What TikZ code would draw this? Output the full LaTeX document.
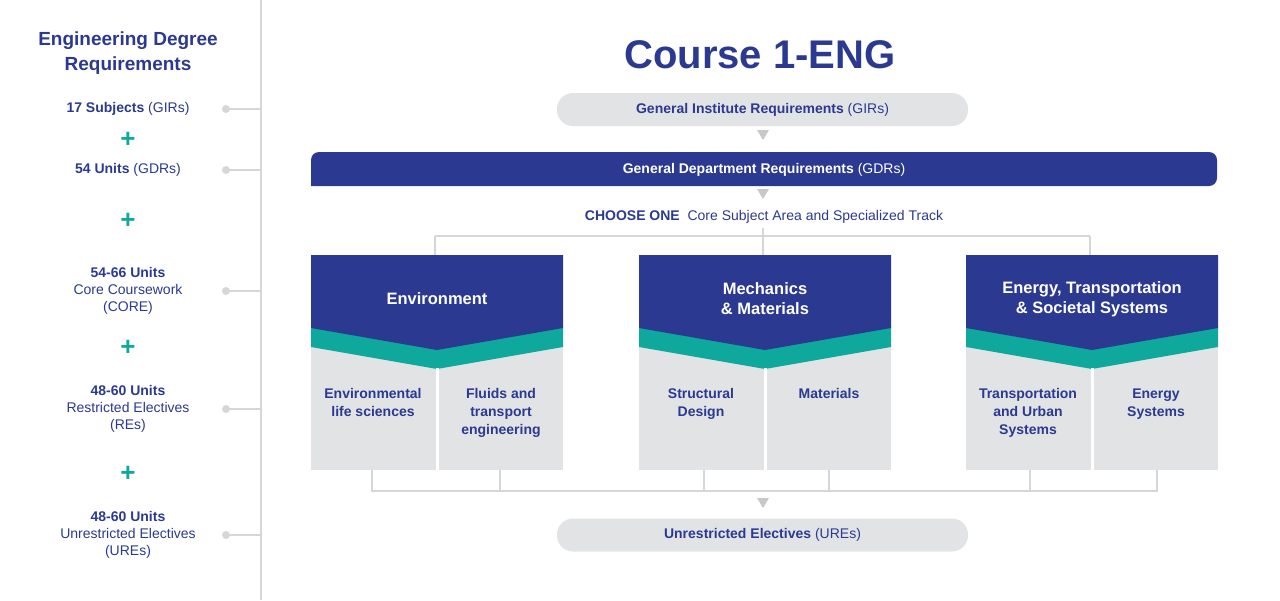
\documentclass[tikz,border=0pt]{standalone}
\usepackage{fontspec}
\setmainfont{Liberation Sans}
\begin{document}
\begin{tikzpicture}[x=1pt,y=-1pt,
  navytxt/.style={text=navy,font=\fontsize{14}{17}\selectfont,align=center},
  boxhead/.style={text=white,font=\bfseries\fontsize{16.5}{20}\selectfont,align=center},
  sub/.style={text=navy,font=\bfseries\fontsize{14}{18}\selectfont,align=center},
  pill/.style={fill=pillgray,rounded corners=16pt},
  conn/.style={draw=linegray,line width=2.5pt},
  tri/.style={fill=trigray},
  plus/.style={text=teal,font=\bfseries\fontsize{26}{26}\selectfont}]
\definecolor{navy}{HTML}{2B3990}
\definecolor{teal}{HTML}{0FA89D}
\definecolor{pillgray}{HTML}{E2E3E5}
\definecolor{linegray}{HTML}{D6D6D6}
\definecolor{trigray}{HTML}{C8C8C8}
\useasboundingbox (0,0) rectangle (1280,600);
% left column
\draw[conn] (261,0) -- (261,600);
\node[navytxt,font=\bfseries\fontsize{19}{25}\selectfont] (title) at (128,53) {Engineering Degree\\Requirements};
\foreach \y/\t [count=\i] in {109/{\textbf{17 Subjects} (GIRs)},170/{\textbf{54 Units} (GDRs)},291/{\textbf{54-66 Units}\\Core Coursework\\(CORE)},409/{\textbf{48-60 Units}\\Restricted Electives\\(REs)},535/{\textbf{48-60 Units}\\Unrestricted Electives\\(UREs)}}{
  \node[navytxt] (l\i) at (128,\y) {\t};
  \coordinate (d\i) at (226,\y);
  \coordinate (e\i) at (261,\y);
  \fill[linegray] (d\i) circle (4);
  \draw[conn] (d\i) -- (e\i);
}
\foreach \y [count=\i] in {140,221,348,474}{\node[plus] (p\i) at (128,\y) {+};}
% title
\node[text=navy,font=\bfseries\fontsize{40}{40}\selectfont] (course) at (760,55) {Course 1-ENG};
% GIRs
\node[pill,minimum width=411,minimum height=33,navytxt] (gir) at (762.5,109.5) {\textbf{General Institute Requirements} (GIRs)};
\fill[trigray] (757,130) -- (769,130) -- (763,140) -- cycle;
% GDRs
\fill[navy,rounded corners=8pt] (311,186) -- (311,152) -- (1217,152) -- (1217,186) [sharp corners] -- cycle;
\node[text=white,font=\fontsize{14}{17}\selectfont] (gdr) at (764,170) {\textbf{General Department Requirements} (GDRs)};
\fill[trigray] (757,189) -- (769,189) -- (763,199) -- cycle;
\node[text=navy,font=\fontsize{14}{17}\selectfont] (choose) at (764,217) {\textbf{CHOOSE ONE}\ \ Core Subject Area and Specialized Track};
% top bracket
\coordinate (tb0) at (763,228);
\coordinate (tbL) at (435,236);
\coordinate (tbR) at (1090,236);
\draw[conn] (tbL) -- (tbR);
\draw[conn] (tb0) -- (763,255);
\draw[conn] (tbL) -- (435,255);
\draw[conn] (tbR) -- (1090,255);
% boxes
\foreach \x/\t/\a/\b [count=\i] in {311/Environment/{Environmental\\life sciences}/{Fluids and\\transport\\engineering},
  639/{Mechanics\\\& Materials}/{Structural\\Design}/Materials,
  966/{Energy, Transportation\\\& Societal Systems}/{Transportation\\and Urban\\Systems}/{Energy\\Systems}}{
  \fill[pillgray] (\x,255) rectangle ++(252,215);
  \fill[teal] (\x,327) -- (\x+126,349) -- (\x+252,327) -- (\x+252,347) -- (\x+126,369) -- (\x,347) -- cycle;
  \fill[navy] (\x,255) -- (\x+252,255) -- (\x+252,328) -- (\x+126,350) -- (\x,328) -- cycle;
  \fill[white] (\x+124.5,368) rectangle (\x+127.5,470);
  \node[boxhead] (h\i) at (\x+126,299) {\t};
  \node[sub,anchor=north] (a\i) at (\x+62,385) {\a};
  \node[sub,anchor=north] (b\i) at (\x+190,385) {\b};
}
% bottom bracket
\draw[conn] (372,470) -- (372,491) -- (1157,491) -- (1157,470);
\foreach \x in {500,704,829,1030}{\draw[conn] (\x,470) -- (\x,491);}
\fill[trigray] (757,498) -- (769,498) -- (763,508) -- cycle;
\node[pill,minimum width=411,minimum height=33,navytxt] (ure) at (762.5,535) {\textbf{Unrestricted Electives} (UREs)};
\end{tikzpicture}
\end{document}
